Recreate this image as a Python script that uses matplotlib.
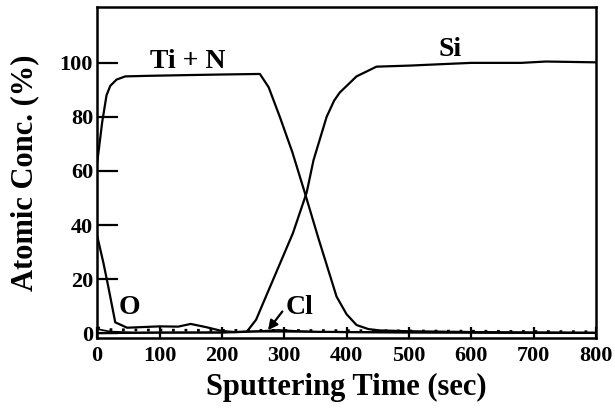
import matplotlib
matplotlib.use("Agg")
import matplotlib.pyplot as plt

plt.rcParams["font.family"] = ["Liberation Serif", "DejaVu Serif"]
plt.rcParams["font.weight"] = "bold"

# depth profile (time in sec, conc. in %)
ti_n_t = [0, 8, 15, 21, 31, 45, 80, 150, 200, 261, 275, 293, 313, 333, 355, 384, 400, 416, 435, 453,
          500, 600, 700, 800]
ti_n_c = [63, 78, 88, 91.5, 93.8, 95, 95.2, 95.5, 95.7, 95.9, 91, 80, 67, 52, 35, 13.5, 7, 3, 1.5, 1,
          0.7, 0.4, 0.2, 0.1]

si_t = [0, 100, 200, 240, 255, 266, 290, 314, 336, 347, 368, 380, 389, 416, 448, 502, 550, 600,
        680, 720, 800]
si_c = [0, 0.2, 0.2, 0.5, 5, 11, 24, 37, 52, 64, 80, 86, 89, 95, 98.6, 99, 99.5, 100, 100, 100.5,
        100.2]

o_t = [0, 10, 18, 29, 48, 100, 130, 150, 175, 200, 220, 250, 300, 400, 500, 600, 700, 800]
o_c = [36, 26, 17, 4, 2, 2.5, 2.4, 3.4, 2.2, 0.8, 0.4, 0.6, 0.6, 0.4, 0.3, 0.2, 0.1, 0.1]

cl_t = [0, 20, 60, 100, 200, 250, 290, 320, 360, 400, 500, 600, 700, 800]
cl_c = [1.5, 0.6, 0.2, 0.2, 0.3, 0.6, 1.2, 0.8, 0.4, 0.3, 0.2, 0.2, 0.2, 0.1]

dot_t = [0, 20, 50, 100, 200, 300, 400, 500, 600, 700, 800]
dot_c = [2, 1.3, 1.2, 1.1, 1.0, 1.0, 0.9, 0.8, 0.7, 0.6, 0.5]

xticks = [0, 100, 200, 300, 400, 500, 600, 700, 800]
yticks = [0, 20, 40, 60, 80, 100]

fig = plt.figure(figsize=(6.15, 4.08), dpi=100)
ax = fig.add_axes([0.158, 0.1716, 0.811, 0.8114])

lw = 1.6
ax.plot(ti_n_t, ti_n_c, color="black", lw=lw)
ax.plot(si_t, si_c, color="black", lw=lw)
ax.plot(o_t, o_c, color="black", lw=lw)
ax.plot(cl_t, cl_c, color="black", lw=1.2)
ax.plot(dot_t, dot_c, color="black", lw=2.0, ls=(0, (1, 3.5)))

ax.set_xlim(0, 800)
ax.set_ylim(-1.8, 120.7)
ax.set_xticks(xticks)
ax.set_yticks(yticks)
ax.tick_params(axis="both", direction="in", labelsize=16, width=1.6)
ax.tick_params(axis="y", length=15, pad=3)
ax.tick_params(axis="x", length=8, pad=6)
for s in ax.spines.values():
    s.set_linewidth(1.8)

ax.set_xlabel("Sputtering Time (sec)", fontsize=22, fontweight="bold", labelpad=4.5)
ax.set_ylabel("Atomic Conc. (%)", fontsize=22, fontweight="bold", labelpad=15)

ax.text(146, 100.4, "Ti + N", fontsize=20, fontweight="bold", ha="center", va="center")
ax.text(566, 104.8, "Si", fontsize=20, fontweight="bold", ha="center", va="center")
ax.text(51, 9.6, "O", fontsize=20, fontweight="bold", ha="center", va="center")
ax.text(324, 9.3, "Cl", fontsize=20, fontweight="bold", ha="center", va="center")
ax.annotate("", xy=(274, 1.1), xytext=(297, 8),
            arrowprops=dict(arrowstyle="-|>", color="black", lw=1.6, shrinkA=0, shrinkB=0,
                            mutation_scale=14))

fig.savefig("out.png", dpi=100)
